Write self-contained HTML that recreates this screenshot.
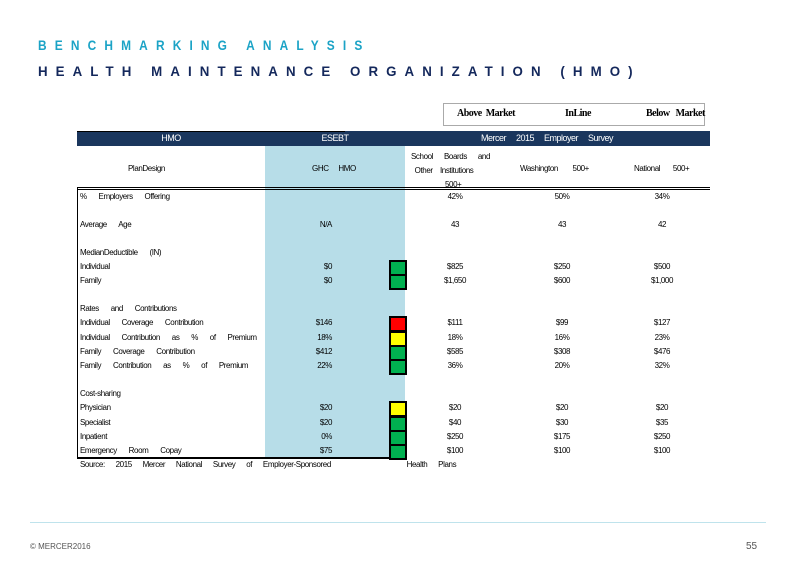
<!DOCTYPE html>
<html><head><meta charset="utf-8"><style>
body{margin:0;width:800px;height:571px;background:#fff;position:relative;overflow:hidden;font-family:"Liberation Sans",Arial,sans-serif}
.a{position:absolute;white-space:nowrap}
.t{font-size:8px;color:#000;letter-spacing:-0.4px;line-height:10px}
.r{text-align:right}
.c{text-align:center}
.box{position:absolute;left:389px;width:14px;height:12px;border:2px solid #000;box-sizing:content-box}
</style></head><body>
<div class="a" style="left:38px;top:37px;font-size:14px;font-weight:bold;color:#1ba3c6;letter-spacing:9.6px;transform:scaleX(0.85);transform-origin:left">BENCHMARKING ANALYSIS</div>
<div class="a" style="left:38px;top:63px;font-size:14px;font-weight:bold;color:#14285c;letter-spacing:8.5px;transform:scaleX(0.95);transform-origin:left">HEALTH MAINTENANCE ORGANIZATION (HMO)</div>

<div class="a" style="left:443px;top:103px;width:262px;height:23px;border:1px solid #aaa;box-sizing:border-box"></div>
<div class="a" style="left:457px;top:108px;font-family:'Liberation Serif',serif;font-size:10px;font-weight:bold;letter-spacing:-0.5px">Above &nbsp;Market</div>
<div class="a" style="left:565px;top:108px;font-family:'Liberation Serif',serif;font-size:10px;font-weight:bold;letter-spacing:-0.5px">InLine</div>
<div class="a" style="left:646px;top:108px;font-family:'Liberation Serif',serif;font-size:10px;font-weight:bold;letter-spacing:-0.5px">Below &nbsp;&nbsp;Market</div>

<div class="a" style="left:77px;top:131px;width:633px;height:15px;background:#1a365d"></div>
<div class="a" style="left:77px;top:131px;width:268px;height:1px;background:#000"></div>
<div class="a" style="left:77px;top:133px;width:188px;font-size:9px;color:#fff;letter-spacing:-0.5px"><div class="c">HMO</div></div>
<div class="a" style="left:265px;top:133px;width:140px;font-size:9px;color:#fff;letter-spacing:-0.5px"><div class="c">ESEBT</div></div>
<div class="a" style="left:481px;top:133px;font-size:9px;color:#fff;letter-spacing:-0.5px;word-spacing:8px">Mercer 2015 Employer Survey</div>

<div class="a" style="left:265px;top:146px;width:140px;height:312px;background:#b7dde8"></div>
<div class="a" style="left:77px;top:187px;width:633px;height:3px;border-top:1px solid #000;border-bottom:1px solid #000;box-sizing:border-box"></div>
<div class="a" style="left:77px;top:188px;width:1px;height:270px;background:#000"></div>
<div class="a" style="left:77px;top:457px;width:328px;height:2px;background:#000"></div>

<div class="a t" style="left:128px;top:164px">PlanDesign</div>
<div class="a t" style="left:312px;top:164px;word-spacing:8px">GHC HMO</div>
<div class="a t" style="left:411px;top:150px;line-height:14px">School &nbsp;&nbsp;&nbsp;&nbsp;&nbsp;Boards &nbsp;&nbsp;&nbsp;&nbsp;&nbsp;and<br>&nbsp;&nbsp;Other &nbsp;&nbsp;&nbsp;Institutions<br><span style="padding-left:34px">500+</span></div>
<div class="a t" style="left:520px;top:164px">Washington &nbsp;&nbsp;&nbsp;&nbsp;&nbsp;&nbsp;&nbsp;500+</div>
<div class="a t" style="left:634px;top:164px">National &nbsp;&nbsp;&nbsp;&nbsp;&nbsp;&nbsp;500+</div>

<div id="rows"></div>
<div class="a t" style="left:80px;top:460px;word-spacing:9px">Source: 2015 Mercer National Survey of Employer-Sponsored &nbsp;&nbsp;&nbsp;&nbsp;&nbsp;&nbsp;Health Plans</div>

<div class="a" style="left:30px;top:522px;width:736px;height:1px;background:#bfe3ec"></div>
<div class="a" style="left:30px;top:542px;font-size:8px;color:#555">© MERCER2016</div>
<div class="a" style="left:746px;top:541px;font-size:10px;color:#555">55</div>

<script>
const rowLabels=["% Employers Offering","Average Age","MedianDeductible (IN)","Individual","Family","Rates and Contributions","Individual Coverage Contribution","Individual Contribution as % of Premium","Family Coverage Contribution","Family Contribution as % of Premium","Cost-sharing","Physician","Specialist","Inpatient","Emergency Room Copay"];
const rowY=[192,220,248,262,276,304,318,333,347,361,389,403,418,432,446];
const ghc=["","N/A","","$0","$0","","$146","18%","$412","22%","","$20","$20","0%","$75"];
const school=["42%","43","","$825","$1,650","","$111","18%","$585","36%","","$20","$40","$250","$100"];
const wa=["50%","43","","$250","$600","","$99","16%","$308","20%","","$20","$30","$175","$100"];
const nat=["34%","42","","$500","$1,000","","$127","23%","$476","32%","","$20","$35","$250","$100"];
const status=["","","","green","green","","red","yellow","green","green","","yellow","green","green","green"];
const colors={green:"#00b050",red:"#ff0000",yellow:"#ffff00"};
const root=document.getElementById('rows');
function add(txt,x,y,w,align,name){
  const d=document.createElement('div');
  d.className='a t';
  
  
  d.style.left=x+'px';d.style.top=y+'px';
  if(w){d.style.width=w+'px';d.style.textAlign=align;}
  d.style.wordSpacing='10px';
  d.textContent=txt;root.appendChild(d);
}
rowLabels.forEach((l,i)=>{
  const y=rowY[i];
  add(l,80,y,0,'left','row-label');
  if(ghc[i])add(ghc[i],282,y,50,'right','ghc-value');
  if(school[i])add(school[i],430,y,50,'center','school-value');
  if(wa[i])add(wa[i],537,y,50,'center','washington-value');
  if(nat[i])add(nat[i],637,y,50,'center','national-value');
  if(status[i]){
    const b=document.createElement('div');
    b.className='box';
    
    
    b.style.top=(y-2)+'px';b.style.background=colors[status[i]];
    root.appendChild(b);
  }
});
</script>
</body></html>
